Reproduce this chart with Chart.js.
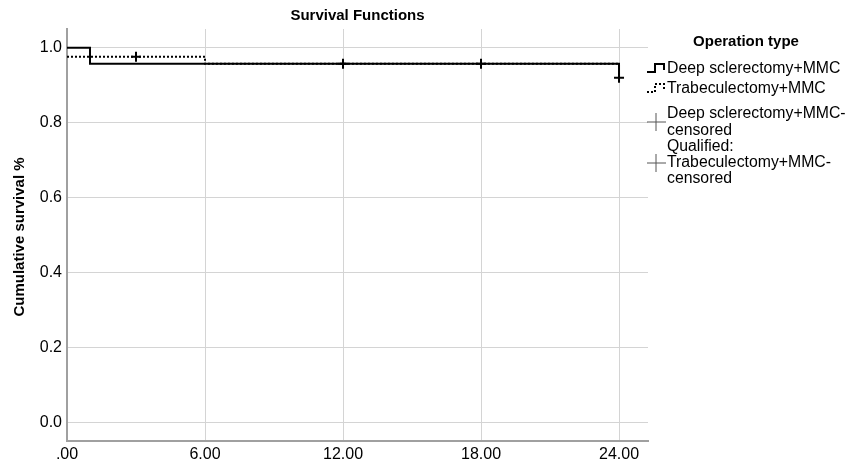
<!DOCTYPE html>
<html>
<head>
<meta charset="utf-8">
<script src="https://cdn.jsdelivr.net/npm/chart.js@4"></script>
<style>
  body { margin: 0; background: #fff; }
  #wrap { width: 860px; height: 465px; }
</style>
</head>
<body>
<div id="wrap"><canvas id="survChart" width="860" height="465"></canvas></div>
<script>
// --- DATA ---
const deepTimes = [0, 1, 24, 24];
const deepSurv = [1.0, 0.957, 0.957, 0.92];
const trabTimes = [0, 6, 6, 24];
const trabSurv = [0.976, 0.976, 0.957, 0.957];
const deepCensTimes = [12, 18, 24];
const deepCensSurv = [0.957, 0.957, 0.92];
const trabCensTimes = [3];
const trabCensSurv = [0.976];
const xTicks = [0, 6, 12, 18, 24];
const yTicks = [0, 0.2, 0.4, 0.6, 0.8, 1.0];
const legendLabels = [
    ["Deep sclerectomy+MMC"],
    ["Trabeculectomy+MMC"],
    ["Deep sclerectomy+MMC-", "censored"],
    ["Qualified:", "Trabeculectomy+MMC-", "censored"]
];

const FONT = "'Liberation Sans', Arial, sans-serif";
const toXY = (xs, ys) => xs.map((x, i) => ({ x: x, y: ys[i] }));

// --- TITLE + LEGEND (drawn on canvas) ---
const extras = {
    id: 'extras',
    afterDraw(chart) {
        const c = chart.ctx;
        const area = chart.chartArea;
        c.save();
        c.fillStyle = '#000';
        c.textBaseline = 'middle';

        // title
        c.font = 'bold 15px ' + FONT;
        c.textAlign = 'center';
        c.fillText('Survival Functions', (area.left + area.right) / 2, 16);

        // y title
        c.save();
        c.translate(20, 237);
        c.rotate(-Math.PI / 2);
        c.fillText('Cumulative survival %', 0, 0);
        c.restore();

        // legend
        c.fillText('Operation type', 746, 42);
        c.textAlign = 'left';
        c.font = '15.8px ' + FONT;
        c.strokeStyle = '#000';

        // solid step symbol
        c.lineWidth = 2;
        c.beginPath();
        c.moveTo(647, 72); c.lineTo(655, 72); c.lineTo(655, 64); c.lineTo(664, 64); c.lineTo(664, 70);
        c.stroke();
        c.fillText(legendLabels[0][0], 667, 69);

        // dotted step symbol
        c.setLineDash([2, 2]);
        c.beginPath();
        c.moveTo(647, 92); c.lineTo(655, 92); c.lineTo(655, 84); c.lineTo(664, 84); c.lineTo(664, 90);
        c.stroke();
        c.setLineDash([]);
        c.fillText(legendLabels[1][0], 667, 89);

        // censored crosses
        c.lineWidth = 1;
        c.strokeStyle = '#555';
        [[122, 2, [114, 131]], [163, 3, [147, 163, 179]]].forEach(([cy, idx, ys]) => {
            c.beginPath();
            c.moveTo(647, cy); c.lineTo(666, cy);
            c.moveTo(656, cy - 9); c.lineTo(656, cy + 9);
            c.stroke();
            legendLabels[idx].forEach((t, i) => c.fillText(t, 667, ys[i]));
        });
        c.restore();
    }
};

// --- CHART ---
const ctx = document.getElementById('survChart').getContext('2d');
new Chart(ctx, {
    type: 'line',
    data: {
        datasets: [
            {
                label: 'Deep sclerectomy+MMC',
                data: toXY(deepTimes, deepSurv),
                borderColor: '#000',
                borderWidth: 2,
                stepped: 'before',
                pointRadius: 0,
                fill: false
            },
            {
                label: 'Trabeculectomy+MMC',
                data: toXY(trabTimes, trabSurv),
                borderColor: '#000',
                borderWidth: 2,
                borderDash: [2, 2],
                stepped: 'before',
                pointRadius: 0,
                fill: false
            },
            {
                label: 'Deep sclerectomy+MMC-censored',
                data: toXY(deepCensTimes, deepCensSurv),
                showLine: false,
                pointStyle: 'cross',
                pointRadius: 5,
                pointBorderColor: '#000',
                pointBorderWidth: 2
            },
            {
                label: 'Trabeculectomy+MMC-censored',
                data: toXY(trabCensTimes, trabCensSurv),
                showLine: false,
                pointStyle: 'cross',
                pointRadius: 5,
                pointBorderColor: '#000',
                pointBorderWidth: 2
            }
        ]
    },
    options: {
        responsive: false,
        animation: false,
        layout: { padding: { top: 29, right: 212, left: 0, bottom: 0 } },
        plugins: { legend: { display: false }, title: { display: false }, tooltip: { enabled: false } },
        scales: {
            x: {
                type: 'linear',
                min: 0,
                max: 25.26,
                afterBuildTicks: s => { s.ticks = xTicks.map(v => ({ value: v })); },
                afterFit: s => { s.height = 24; },
                grid: { color: '#d4d4d4', lineWidth: 1, drawTicks: false },
                border: { color: '#a0a0a0', width: 2 },
                ticks: {
                    padding: 4,
                    color: '#000',
                    font: { family: FONT, size: 16 },
                    callback: v => v === 0 ? '.00' : v.toFixed(2)
                }
            },
            y: {
                min: -0.05,
                max: 1.05,
                afterBuildTicks: s => { s.ticks = yTicks.map(v => ({ value: v })); },
                afterFit: s => { s.width = 67; },
                grid: { color: '#d4d4d4', lineWidth: 1, drawTicks: false },
                border: { color: '#a0a0a0', width: 2 },
                ticks: {
                    padding: 5,
                    color: '#000',
                    font: { family: FONT, size: 16 },
                    callback: v => v.toFixed(1)
                }
            }
        }
    },
    plugins: [extras]
});
</script>
</body>
</html>
